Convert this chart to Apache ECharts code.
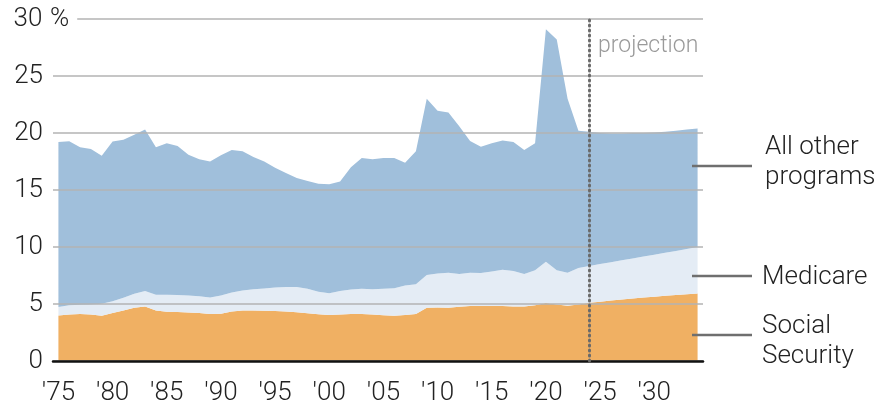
<!DOCTYPE html>
<html>
<head>
<meta charset="utf-8">
<script src="https://cdn.jsdelivr.net/npm/echarts@6/dist/echarts.min.js"></script>
<style>
  html, body { margin: 0; padding: 0; background: #fff; }
  #chart { width: 876px; height: 406px; }
</style>
</head>
<body>
<div id="chart"></div>
<script>
// fiscal years 1975-2034, shares of spending (%)
const years = [
  1975, 1976, 1977, 1978, 1979, 1980, 1981, 1982, 1983, 1984,
  1985, 1986, 1987, 1988, 1989, 1990, 1991, 1992, 1993, 1994,
  1995, 1996, 1997, 1998, 1999, 2000, 2001, 2002, 2003, 2004,
  2005, 2006, 2007, 2008, 2009, 2010, 2011, 2012, 2013, 2014,
  2015, 2016, 2017, 2018, 2019, 2020, 2021, 2022, 2023, 2024,
  2025, 2026, 2027, 2028, 2029, 2030, 2031, 2032, 2033, 2034
];
const socialSecurity = [
  4.0, 4.07, 4.12, 4.07, 3.98, 4.2, 4.44, 4.67, 4.79, 4.44,
  4.33, 4.3, 4.25, 4.2, 4.12, 4.15, 4.35, 4.44, 4.44, 4.4,
  4.38, 4.35, 4.27, 4.18, 4.09, 4.04, 4.07, 4.12, 4.12, 4.07,
  4.01, 3.98, 4.04, 4.12, 4.67, 4.7, 4.67, 4.76, 4.82, 4.82,
  4.82, 4.82, 4.79, 4.79, 4.9, 5.08, 4.96, 4.85, 4.96, 5.1,
  5.2, 5.3, 5.4, 5.48, 5.56, 5.64, 5.72, 5.8, 5.86, 5.92
];
const medicare = [
  0.73, 0.81, 0.81, 0.89, 1.04, 1.05, 1.11, 1.23, 1.34, 1.37,
  1.48, 1.48, 1.5, 1.47, 1.46, 1.6, 1.65, 1.74, 1.86, 1.95,
  2.06, 2.15, 2.23, 2.15, 1.98, 1.91, 2.06, 2.15, 2.21, 2.23,
  2.32, 2.4, 2.58, 2.61, 2.88, 2.97, 3.08, 2.88, 2.93, 2.9,
  3.02, 3.19, 3.11, 2.85, 3.06, 3.63, 3.0, 2.9, 3.2, 3.23,
  3.3, 3.36, 3.43, 3.52, 3.6, 3.69, 3.78, 3.86, 3.97, 4.08
];
const otherPrograms = [
  14.47, 14.4, 13.83, 13.64, 12.98, 14.0, 13.85, 13.95, 14.17, 12.95,
  13.29, 13.07, 12.35, 12.03, 11.92, 12.3, 12.5, 12.22, 11.6, 11.15,
  10.51, 10.0, 9.55, 9.47, 9.48, 9.55, 9.62, 10.73, 11.47, 11.4,
  11.47, 11.42, 10.78, 11.67, 15.45, 14.28, 14.05, 12.96, 11.55, 11.08,
  11.26, 11.34, 11.3, 10.86, 11.14, 20.39, 20.24, 15.25, 12.04, 11.77,
  11.5, 11.29, 11.12, 11.0, 10.84, 10.72, 10.6, 10.54, 10.47, 10.4
];
const yTicks = [0, 5, 10, 15, 20, 25, 30];
const projectionYear = '2024';

const FONT = 'Roboto, "Noto Sans", sans-serif';
const cats = years.map(String);

const chart = echarts.init(document.getElementById('chart'));

function areaSeries(name, data, color) {
  return {
    name: name,
    type: 'line',
    stack: 'total',
    data: data,
    showSymbol: false,
    symbol: 'none',
    silent: true,
    lineStyle: { width: 0 },
    areaStyle: { color: color, opacity: 1 },
    z: 2
  };
}

const series = [
  areaSeries('Social Security', socialSecurity, '#f0b063'),
  areaSeries('Medicare', medicare, '#e4ecf5'),
  areaSeries('All other programs', otherPrograms, '#a0bfdb')
];
series[2].markLine = {
  silent: true,
  symbol: 'none',
  label: { show: false },
  lineStyle: { color: '#6a6a6a', width: 3, type: [1, 4], cap: 'round' },
  data: [{ xAxis: projectionYear }],
  z: 10
};

const leader = { stroke: '#6f6f6f', lineWidth: 2.5 };
const textStyle = { fontFamily: FONT, fontSize: 26, fontWeight: 300, fill: '#222', lineHeight: 30 };

chart.setOption({
  animation: false,
  grid: { left: 53, right: 173, top: 19, bottom: 43 },
  xAxis: [
    {
      type: 'category',
      data: cats,
      boundaryGap: true,
      z: 5,
      axisLine: { lineStyle: { color: '#111', width: 2.5 } },
      axisTick: {
        inside: true,
        alignWithLabel: true,
        interval: (i) => i % 5 === 0,
        length: 13,
        lineStyle: { color: '#111', width: 2 }
      },
      axisLabel: {
        interval: (i) => i % 5 === 0,
        formatter: (v) => "'" + v.slice(2),
        margin: 19,
        fontFamily: FONT,
        fontSize: 26,
        fontWeight: 300,
        color: '#222'
      },
      splitLine: { show: false }
    },
    {
      type: 'category',
      data: cats,
      boundaryGap: true,
      position: 'bottom',
      z: 5,
      axisLine: { show: false },
      axisTick: {
        inside: true,
        alignWithLabel: true,
        interval: 0,
        length: 9,
        lineStyle: { color: '#111', width: 1.5 }
      },
      axisLabel: { show: false },
      splitLine: { show: false }
    }
  ],
  yAxis: {
    type: 'value',
    min: yTicks[0],
    max: yTicks[yTicks.length - 1],
    interval: 5,
    z: 4,
    axisLine: { show: false },
    axisTick: { show: false },
    splitLine: { lineStyle: { color: '#b3b3b3', width: 1.5 } },
    axisLabel: {
      align: 'left',
      margin: 40,
      formatter: (v) => v === 30 ? '{v|30}{p|%}' : '{v|' + v + '}',
      rich: {
        v: { width: 30, align: 'right', fontFamily: FONT, fontSize: 26, fontWeight: 300, color: '#222' },
        p: {
          fontFamily: FONT, fontSize: 26, fontWeight: 300, color: '#222',
          padding: [0, 8, 0, 7], backgroundColor: '#fff'
        }
      }
    }
  },
  series: series,
  graphic: [
    {
      type: 'text', left: 598, top: 35, z: 20,
      style: { text: 'projection', fontFamily: FONT, fontSize: 23, fontWeight: 300, fill: '#9a9a9a' }
    },
    { type: 'line', z: 20, shape: { x1: 692, y1: 166, x2: 752, y2: 166 }, style: leader },
    { type: 'line', z: 20, shape: { x1: 692, y1: 276, x2: 752, y2: 276 }, style: leader },
    { type: 'line', z: 20, shape: { x1: 692, y1: 335, x2: 752, y2: 335 }, style: leader },
    {
      type: 'text', left: 765, top: 132, z: 20,
      style: Object.assign({ text: 'All other\nprograms' }, textStyle)
    },
    {
      type: 'text', left: 762, top: 262, z: 20,
      style: Object.assign({ text: 'Medicare' }, textStyle)
    },
    {
      type: 'text', left: 762, top: 311, z: 20,
      style: Object.assign({ text: 'Social\nSecurity' }, textStyle)
    }
  ]
});
</script>
</body>
</html>
